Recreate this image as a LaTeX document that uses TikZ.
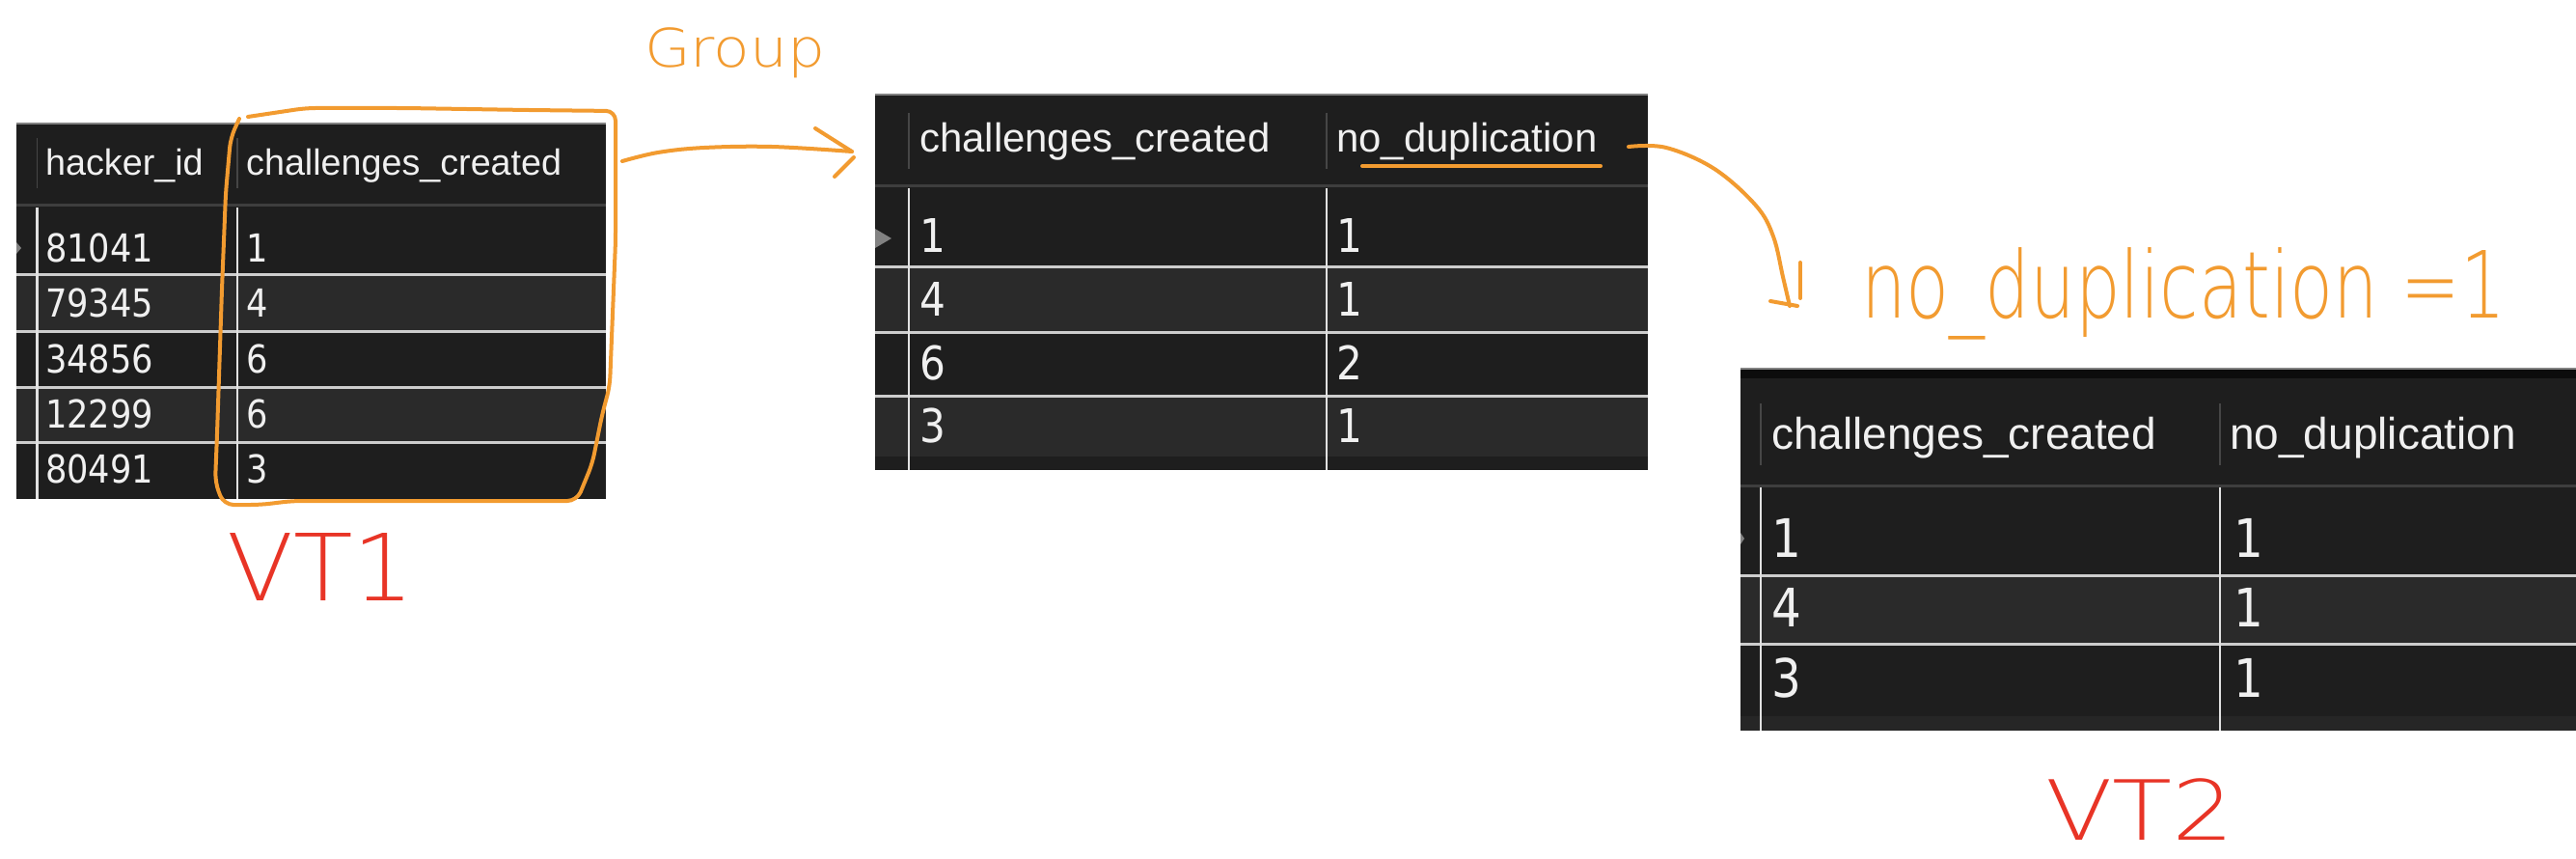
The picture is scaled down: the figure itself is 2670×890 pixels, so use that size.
\documentclass[tikz,border=0pt]{standalone}
\usepackage{fontspec}
\usepackage{graphicx}
\setmainfont{Liberation Sans}
\newfontfamily\numfont[FakeStretch=0.88]{DejaVu Sans}
\newfontfamily\handfont{DejaVuSans-ExtraLight.ttf}

\definecolor{rowdark}{RGB}{30,30,30}
\definecolor{rowlight}{RGB}{42,42,42}
\definecolor{bandtop}{RGB}{12,12,12}
\definecolor{bandlow}{RGB}{38,38,38}
\definecolor{sepline}{RGB}{205,205,205}
\definecolor{colline}{RGB}{225,225,225}
\definecolor{hdrline}{RGB}{62,62,62}
\definecolor{hdrcolline}{RGB}{70,70,70}
\definecolor{edgeline}{RGB}{130,130,130}
\definecolor{celltext}{RGB}{240,240,240}
\definecolor{pen}{RGB}{242,155,48}
\definecolor{redpen}{RGB}{232,52,38}

\tikzset{
  rowsep/.style={draw=sepline, line width=3pt},
  colsep/.style={draw=colline, line width=2.5pt},
  hdrsep/.style={draw=hdrline, line width=3pt},
  hdrcol/.style={draw=hdrcolline, line width=1.5pt},
  topedge/.style={draw=edgeline, line width=1.5pt},
  cell/.style={anchor=base west, inner sep=0pt, text=celltext},
  hdrA/.style={cell, font=\fontsize{37.7}{40}\selectfont},
  hdrB/.style={cell, font=\fontsize{41.9}{44}\selectfont},
  hdrC/.style={cell, font=\fontsize{46}{48}\selectfont},
  numA/.style={cell, font=\numfont\fontsize{40}{42}\selectfont},
  numB/.style={cell, font=\numfont\fontsize{48}{50}\selectfont},
  numC/.style={cell, font=\numfont\fontsize{55}{57}\selectfont},
  marker/.style={draw=pen, line width=4pt, line cap=round, line join=round},
  scrawl/.style={anchor=base west, inner sep=0pt, text depth=0pt},
  redmark/.style={scrawl, text=redpen},
  penmark/.style={scrawl, text=pen},
  rowtip/.style={fill=edgeline},
}

\begin{document}
\begin{tikzpicture}[x=1pt,y=-1pt]
\useasboundingbox (0,0) rectangle (2670,890);
\fill[white] (0,0) rectangle (2670,890);

% ---------- first table: hacker_id / challenges_created ----------
\fill[rowdark] (17,128) rectangle (628,517);
\fill[rowlight] (17,285) rectangle (628,343);
\fill[rowlight] (17,401) rectangle (628,458);
\draw[topedge] (17,128) -- (628,128);
\draw[hdrsep] (17,213) -- (628,213);
\foreach \y in {285,343,401,458} \draw[rowsep] (17,\y) -- (628,\y);
\foreach \x in {38.7,246} {
  \draw[hdrcol] (\x,143) -- (\x,195);
  \draw[colsep] (\x,215) -- (\x,517);
}
\fill[rowtip] (17,251) -- (22,257) -- (17,263) -- cycle;
\node[hdrA] (t1ha) at (47,182) {hacker\_id};
\node[hdrA] (t1hb) at (255,182) {challenges\_created};
\foreach \id/\v/\y [count=\i] in {81041/1/272, 79345/4/328, 34856/6/386, 12299/6/443, 80491/3/500} {
  \node[numA] (t1a\i) at (47,\y) {\id};
  \node[numA] (t1b\i) at (255,\y) {\v};
}

% ---------- second table: grouped counts ----------
\fill[rowdark] (907,98) rectangle (1708,487);
\fill[rowlight] (907,277) rectangle (1708,344);
\fill[rowlight] (907,410) rectangle (1708,473);
\draw[topedge] (907,98) -- (1708,98);
\draw[hdrsep] (907,193) -- (1708,193);
\foreach \y in {277,344,410} \draw[rowsep] (907,\y) -- (1708,\y);
\foreach \x in {942,1375} {
  \draw[hdrcol] (\x,117) -- (\x,175);
  \draw[colsep] (\x,195) -- (\x,487);
}
\fill[rowtip] (907,237) -- (924,247) -- (907,257) -- cycle;
\node[hdrB] (t2ha) at (953,158) {challenges\_created};
\node[hdrB] (t2hb) at (1385,158) {no\_duplication};
\foreach \c/\n/\y [count=\i] in {1/1/262, 4/1/327, 6/2/393, 3/1/458} {
  \node[numB] (t2a\i) at (953,\y) {\c};
  \node[numB] (t2b\i) at (1385,\y) {\n};
}

% ---------- third table: filtered rows ----------
\fill[rowdark] (1804,382) rectangle (2670,757);
\fill[bandtop] (1804,382) rectangle (2670,392);
\fill[rowlight] (1804,596) rectangle (2670,667);
\fill[bandlow] (1804,742) rectangle (2670,757);
\draw[topedge] (1804,382) -- (2670,382);
\draw[hdrsep] (1804,503) -- (2670,503);
\foreach \y in {596,667} \draw[rowsep] (1804,\y) -- (2670,\y);
\foreach \x in {1825,2301} {
  \draw[hdrcol] (\x,418) -- (\x,482);
  \draw[colsep] (\x,505) -- (\x,757);
}
\fill[rowtip] (1804,552) -- (1808,558) -- (1804,564) -- cycle;
\node[hdrC] (t3ha) at (1836,465) {challenges\_created};
\node[hdrC] (t3hb) at (2311,465) {no\_duplication};
\foreach \c/\n/\y [count=\i] in {1/1/577, 4/1/649, 3/1/722} {
  \node[numC] (t3a\i) at (1836,\y) {\c};
  \node[numC] (t3b\i) at (2315,\y) {\n};
}

% ---------- pen annotations ----------
% loop round the challenges_created column
\draw[marker, rounded corners=10pt]
  (257,121) -- (317,112) -- (420,112) -- (547,114) -- (638,115)
  -- (638,250) -- (632,400) -- (624,430) -- (614,480) -- (598,519)
  -- (303,519) -- (270,523) -- (232,523) -- (223,500) -- (225,450)
  -- (230,300) -- (234,200) -- (239,143) -- (248,123);

% arrow from the loop to the grouped table
\coordinate (g0) at (645,167);
\coordinate (g1) at (883,157);
\draw[marker] plot[smooth, tension=0.6] coordinates {(g0) (682,158) (730,153) (800,152) (g1)};
\draw[marker] (845,133) -- (g1);
\draw[marker] (865,183) -- (885,163);
\node[penmark] (grp) at (668,70) {\handfont\fontsize{55}{56}\selectfont\scalebox{1.12}[1]{Group}};

% underline and arrow from no_duplication to the filter
\draw[marker] (1412,172) -- (1659,172);
\coordinate (f0) at (1688,152);
\coordinate (f1) at (1855,317);
\draw[marker] plot[smooth, tension=0.6] coordinates {(f0) (1727,153) (1777,175) (1820,213) (1838,245) (1848,287) (f1)};
\draw[marker] (1835,312) -- (1863,317);
\draw[marker] (1866,272) -- (1866,309);
\node[penmark] (flt) at (1929,330) {\handfont\fontsize{96}{97}\selectfont\scalebox{0.767}[1]{no\_duplication =1}};

% table labels
\node[redmark] (vt1) at (235,622) {\handfont\fontsize{96}{97}\selectfont\scalebox{1.05}[1]{VT1}};
\node[redmark] (vt2) at (2120,870) {\handfont\fontsize{86}{87}\selectfont\scalebox{1.18}[1]{VT2}};
\end{tikzpicture}
\end{document}
